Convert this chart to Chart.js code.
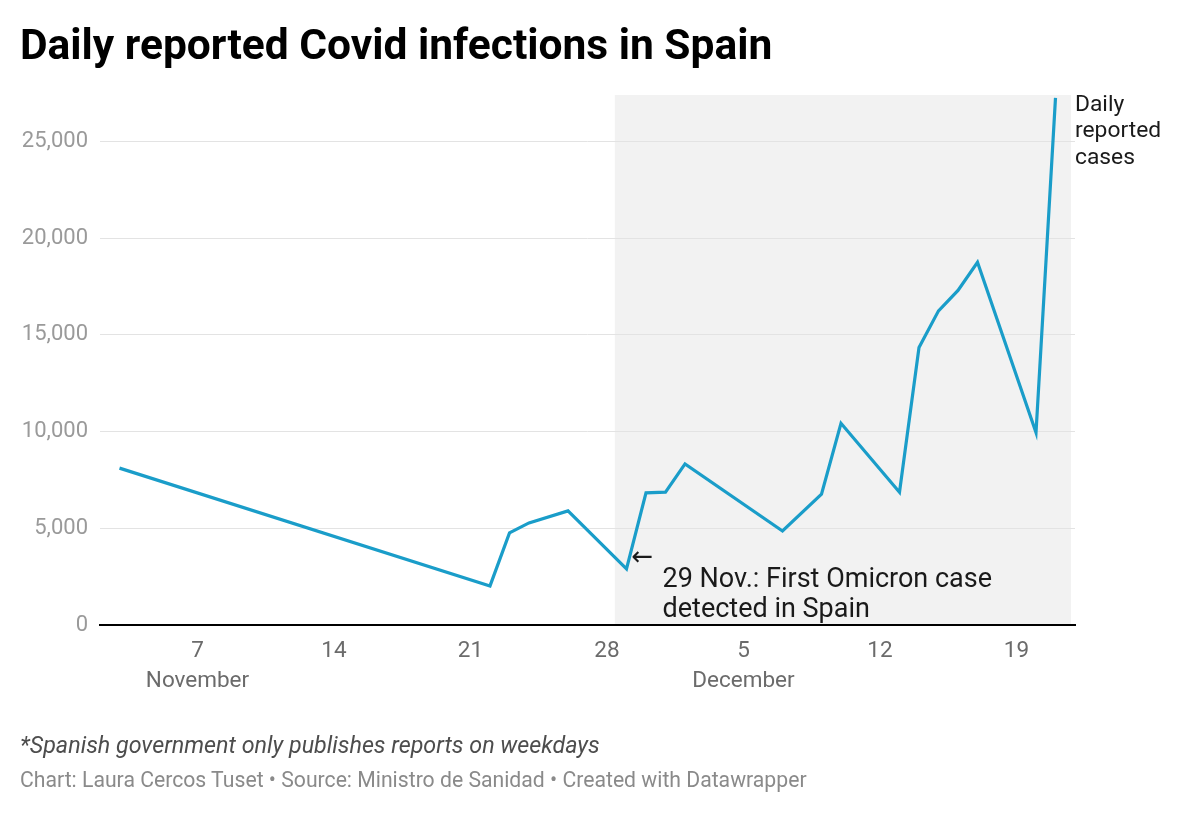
<!DOCTYPE html>
<html>
<head>
<meta charset="utf-8">
<script src="https://cdn.jsdelivr.net/npm/chart.js@4.4.0/dist/chart.umd.min.js"></script>
<style>
  html, body { margin: 0; padding: 0; background: #fff; }
  body { width: 1200px; height: 813px; position: relative; overflow: hidden; font-family: Roboto, "Noto Sans", sans-serif; }
  #wrap { position: absolute; left: 0; top: 0; width: 1200px; height: 813px; }
  #title { position: absolute; left: 20px; top: 20px; font-size: 42.5px; line-height: 50px; font-weight: 700; color: #000; white-space: nowrap; }
  #note { position: absolute; left: 20px; top: 731px; font-size: 23.3px; line-height: 28px; font-style: italic; color: #4d4d4d; white-space: nowrap; }
  #source { position: absolute; left: 20px; top: 767px; font-size: 21.2px; line-height: 26px; color: #8a8a8a; white-space: nowrap; }
</style>
</head>
<body>
<div id="wrap"><canvas id="c" width="1200" height="813"></canvas></div>
<div id="title">Daily reported Covid infections in Spain</div>
<div id="note">*Spanish government only publishes reports on weekdays</div>
<div id="source">Chart: Laura Cercos Tuset • Source: Ministro de Sanidad • Created with Datawrapper</div>
<script>
// ---- data ----
const dates = ['2021-11-03','2021-11-22','2021-11-23','2021-11-24','2021-11-26','2021-11-29','2021-11-30',
  '2021-12-01','2021-12-02','2021-12-07','2021-12-09','2021-12-10','2021-12-13','2021-12-14','2021-12-15',
  '2021-12-16','2021-12-17','2021-12-20','2021-12-21'];
const cases = [8110, 2020, 4760, 5280, 5900, 2900, 6830, 6870, 8330, 4860, 6760, 10430, 6860, 14350, 16240,
  17300, 18750, 9950, 27250];
const xTickDays = [7, 14, 21, 28, 35, 42, 49];           // day counted from 31 Oct 2021
const xTickLabels = [['7','November'], '14', '21', '28', ['5','December'], '12', '19'];
const yTicks = [0, 5000, 10000, 15000, 20000, 25000];
const shadeStartDate = '2021-11-28';
const omicronDate = '2021-11-29';
const omicronLabel = ['29 Nov.: First Omicron case', 'detected in Spain'];
const seriesLabel = ['Daily', 'reported', 'cases'];

const base = Date.UTC(2021, 9, 31);
const toDay = s => { const [y, m, d] = s.split('-').map(Number); return (Date.UTC(y, m - 1, d) - base) / 86400000; };
const points = dates.map((d, i) => ({ x: toDay(d), y: cases[i] }));

const shadePlugin = {
  id: 'shade',
  beforeDraw(chart) {
    const { ctx, chartArea, scales } = chart;
    const x0 = scales.x.getPixelForValue(toDay(shadeStartDate) + 0.4);
    const x1 = chartArea.right - 4;
    ctx.save();
    ctx.fillStyle = '#f2f2f2';
    ctx.fillRect(x0, chartArea.top, x1 - x0, chartArea.bottom - chartArea.top);
    ctx.restore();
  }
};

const annoPlugin = {
  id: 'anno',
  afterDatasetsDraw(chart) {
    const { ctx, chartArea, scales } = chart;
    const i = dates.indexOf(omicronDate);
    const px = scales.x.getPixelForValue(points[i].x);
    const py = scales.y.getPixelForValue(points[i].y);
    ctx.save();
    ctx.fillStyle = '#1a1a1a';
    ctx.textAlign = 'left';
    ctx.textBaseline = 'middle';
    ctx.font = '26px Roboto, "DejaVu Sans"';
    ctx.fillText('←', px + 5, py - 10);
    ctx.textBaseline = 'alphabetic';
    ctx.font = '27px Roboto';
    omicronLabel.forEach((t, k) => ctx.fillText(t, px + 36, py + 18 + k * 30));
    const last = points.length - 1;
    const ly = scales.y.getPixelForValue(points[last].y);
    ctx.font = '22.8px Roboto';
    seriesLabel.forEach((t, k) => ctx.fillText(t, chartArea.right, ly + 13 + k * 26.5));
    ctx.restore();
  }
};

new Chart(document.getElementById('c'), {
  type: 'line',
  data: {
    datasets: [{
      data: points,
      borderColor: '#1a9dc9',
      borderWidth: 3.2,
      pointRadius: 0,
      pointHoverRadius: 0,
      tension: 0,
      fill: false
    }]
  },
  options: {
    responsive: false,
    animation: false,
    events: [],
    layout: { padding: { left: 0, right: 125, top: 95, bottom: 88 } },
    plugins: { legend: { display: false }, tooltip: { enabled: false } },
    scales: {
      x: {
        type: 'linear',
        min: 2, max: 52,
        afterBuildTicks: s => { s.ticks = xTickDays.map(v => ({ value: v })); },
        afterFit: s => { s.height = 100; s.paddingLeft = 0; s.paddingRight = 0; },
        grid: { display: false, drawTicks: false },
        border: { display: true, color: '#000', width: 2 },
        ticks: {
          padding: 12,
          autoSkip: false,
          maxRotation: 0,
          color: '#6b6b6b',
          font: { family: 'Roboto', size: 22.5, lineHeight: 1.3 },
          callback: (v) => { const k = xTickDays.indexOf(v); return k >= 0 ? xTickLabels[k] : ''; }
        }
      },
      y: {
        min: 0, max: 27400,
        afterBuildTicks: s => { s.ticks = yTicks.map(v => ({ value: v })); },
        afterFit: s => { s.width = 100; s.paddingTop = 0; s.paddingBottom = 0; },
        grid: { color: '#e3e3e3', lineWidth: 1, drawTicks: false },
        border: { display: false },
        ticks: {
          padding: 12,
          color: '#9a9a9a',
          font: { family: 'Roboto', size: 22 },
          callback: v => v.toLocaleString('en-US')
        }
      }
    }
  },
  plugins: [shadePlugin, annoPlugin]
});
</script>
</body>
</html>
